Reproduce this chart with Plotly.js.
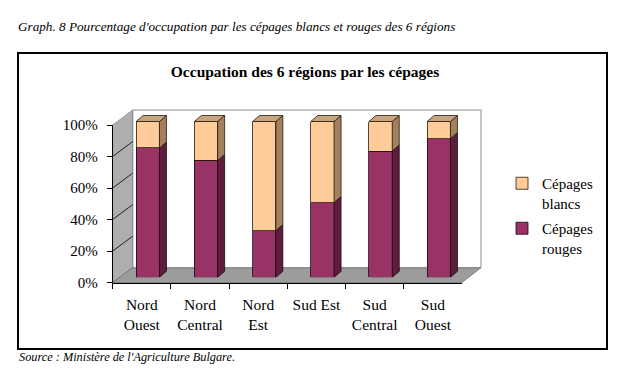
<!DOCTYPE html>
<html>
<head>
<meta charset="utf-8">
<script src="https://cdn.plot.ly/plotly-3.0.1.min.js"></script>
<style>
  html, body { margin: 0; padding: 0; background: #fff; }
  #chart { width: 627px; height: 373px; }
</style>
</head>
<body>
<div id="chart"></div>
<script>
// ---- data ----
const categories = ['Nord<br>Ouest', 'Nord<br>Central', 'Nord<br>Est', 'Sud Est', 'Sud<br>Central', 'Sud<br>Ouest'];
const rouges = [83, 75, 30, 48, 81, 89];
const blancs = [17, 25, 70, 52, 19, 11];
const yTicks = [0, 20, 40, 60, 80, 100];
const yTickLabels = ['0%', '20%', '40%', '60%', '80%', '100%'];
const seriesNames = ['Cépages<br>rouges', 'Cépages<br>blancs'];

// ---- geometry helpers (pixels -> paper) ----
const W = 627, H = 373;
const fx = p => p / W;
const fy = p => 1 - p / H;
const FONT = '"Liberation Serif", "DejaVu Serif", serif';

// front plane (axes), back wall, bars plane in px
const front = { x0: 112.7, x1: 462, yb: 282.5, yt: 125 };
const back = { x0: 132.7, x1: 481, yb: 267.7, yt: 110 };
const barPlane = { x0: 118.7, unit: 58.2, yb: 277.3, yt100: 121.5 };
const barPxPerPct = (barPlane.yb - barPlane.yt100) / 100;
const barXMax = 5.7, barYMax = 110;
const depthDx = 7 / barPlane.unit;      // bar depth in category units
const depthDy = 6 / barPxPerPct;        // bar depth in % units
const barW = 0.4;

const idx = categories.map((_, i) => i);

const traces = [
  // helper (draws nothing) so the front category axis exists
  { x: categories, y: categories.map(() => 0), xaxis: 'x2', yaxis: 'y2', type: 'scatter', mode: 'none',
    showlegend: false, hoverinfo: 'skip' },
  { x: idx, y: rouges, name: seriesNames[0], type: 'bar', xaxis: 'x3', yaxis: 'y3', width: barW,
    legendgroup: 'r', legendrank: 2, marker: { color: '#993366', line: { color: '#1a0510', width: 0.8 } } },
  { x: idx, y: blancs, name: seriesNames[1], type: 'bar', xaxis: 'x3', yaxis: 'y3', width: barW,
    legendgroup: 'b', legendrank: 1, marker: { color: '#FFCC99', line: { color: '#2a1a0a', width: 0.8 } } }
];

const shapes = [];
// outer frame
shapes.push({ type: 'rect', xref: 'paper', yref: 'paper', x0: fx(18), x1: fx(607), y0: fy(53), y1: fy(349),
  line: { color: '#000', width: 2 }, layer: 'below' });
// left wall
shapes.push({ type: 'path', xref: 'paper', yref: 'paper', layer: 'below',
  path: `M ${fx(front.x0)},${fy(front.yb)} L ${fx(front.x0)},${fy(front.yt)} L ${fx(back.x0)},${fy(back.yt)} L ${fx(back.x0)},${fy(back.yb)} Z`,
  fillcolor: '#AEAEAE', line: { color: '#8a8a8a', width: 0.8 } });
// floor
shapes.push({ type: 'path', xref: 'paper', yref: 'paper', layer: 'below',
  path: `M ${fx(front.x0)},${fy(front.yb)} L ${fx(front.x1)},${fy(front.yb)} L ${fx(back.x1)},${fy(back.yb)} L ${fx(back.x0)},${fy(back.yb)} Z`,
  fillcolor: '#9C9C9C', line: { color: '#6e6e6e', width: 0.8 } });
// back wall border
shapes.push({ type: 'rect', xref: 'paper', yref: 'paper', layer: 'below',
  x0: fx(back.x0), x1: fx(back.x1), y0: fy(back.yb), y1: fy(back.yt),
  line: { color: '#8c8c8c', width: 1 } });
// diagonal gridlines on left wall
yTicks.filter(v => v > 0 && v < 100).forEach(v => {
  const yF = front.yb - v * (front.yb - front.yt) / 100;
  const yB = back.yb - v * (back.yb - back.yt) / 100;
  shapes.push({ type: 'line', xref: 'paper', yref: 'paper', layer: 'below',
    x0: fx(front.x0), y0: fy(yF), x1: fx(back.x0), y1: fy(yB), line: { color: '#222', width: 1 } });
});
// 3D faces of bars (from data)
idx.forEach(i => {
  const xr = i + barW / 2, xl = i - barW / 2;
  const r = rouges[i], t = rouges[i] + blancs[i];
  shapes.push({ type: 'path', xref: 'x3', yref: 'y3', layer: 'above',
    path: `M ${xr},0 L ${xr + depthDx},${depthDy} L ${xr + depthDx},${r + depthDy} L ${xr},${r} Z`,
    fillcolor: '#5E1D3C', line: { color: '#1a0510', width: 0.8 } });
  shapes.push({ type: 'path', xref: 'x3', yref: 'y3', layer: 'above',
    path: `M ${xr},${r} L ${xr + depthDx},${r + depthDy} L ${xr + depthDx},${t + depthDy} L ${xr},${t} Z`,
    fillcolor: '#A38160', line: { color: '#2a1a0a', width: 0.8 } });
  shapes.push({ type: 'path', xref: 'x3', yref: 'y3', layer: 'above',
    path: `M ${xl},${t} L ${xr},${t} L ${xr + depthDx},${t + depthDy} L ${xl + depthDx},${t + depthDy} Z`,
    fillcolor: '#C9A47E', line: { color: '#2a1a0a', width: 0.8 } });
});

const layout = {
  width: W, height: H,
  margin: { l: 0, r: 0, t: 0, b: 0 },
  paper_bgcolor: '#fff', plot_bgcolor: 'rgba(0,0,0,0)',
  font: { family: FONT, size: 14, color: '#000' },
  barmode: 'stack',
  showlegend: true,
  title: { text: '<b>Occupation des 6 régions par les cépages</b>', x: fx(305), y: fy(72),
    xref: 'paper', yref: 'paper', xanchor: 'center', yanchor: 'middle',
    font: { family: FONT, size: 15.5, color: '#000' } },
  // back wall (gridlines)
  xaxis: { domain: [fx(back.x0), fx(back.x1)], range: [0, 1], visible: false, anchor: 'y', fixedrange: true },
  yaxis: { domain: [fy(back.yb), fy(back.yt)], range: [0, 100], anchor: 'x', tickvals: yTicks.filter(v => v > 0 && v < 100),
    showgrid: true, gridcolor: '#222', gridwidth: 1, showticklabels: false, ticks: '', zeroline: false, showline: false, fixedrange: true },
  // front axes
  xaxis2: { domain: [fx(front.x0), fx(front.x1)], anchor: 'y2', type: 'category', categoryorder: 'array', categoryarray: categories,
    range: [-0.5, categories.length - 0.5], tickson: 'boundaries', ticks: 'outside', ticklen: 5, tickcolor: '#000', tickwidth: 1,
    showline: true, linecolor: '#000', linewidth: 1, showgrid: false, zeroline: false, ticklabelstandoff: 8,
    tickfont: { family: FONT, size: 15.5, color: '#000' }, fixedrange: true },
  yaxis2: { domain: [fy(front.yb), fy(front.yt)], anchor: 'x2', range: [0, 100], tickmode: 'array', tickvals: yTicks, ticktext: yTickLabels,
    ticks: 'outside', ticklen: 5, tickcolor: '#000', showline: true, linecolor: '#000', linewidth: 1,
    showgrid: false, zeroline: false, ticklabelstandoff: 6, tickfont: { family: FONT, size: 15, color: '#000' }, fixedrange: true },
  // bars plane
  xaxis3: { domain: [fx(barPlane.x0), fx(barPlane.x0 + (barXMax + 0.5) * barPlane.unit)], anchor: 'y3',
    range: [-0.5, barXMax], visible: false, fixedrange: true },
  yaxis3: { domain: [fy(barPlane.yb), fy(barPlane.yb - barYMax * barPxPerPct)], anchor: 'x3',
    range: [0, barYMax], visible: false, fixedrange: true },
  legend: { x: fx(502), y: fy(167), xanchor: 'left', yanchor: 'top', traceorder: 'grouped', tracegroupgap: 3,
    valign: 'top', bgcolor: 'rgba(0,0,0,0)', font: { family: FONT, size: 15, color: '#000' } },
  shapes: shapes,
  annotations: [
    { text: "<i>Graph. 8 Pourcentage d'occupation par les cépages blancs et rouges des 6 régions</i>",
      xref: 'paper', yref: 'paper', x: fx(16), y: fy(26), xanchor: 'left', yanchor: 'middle', showarrow: false,
      font: { family: FONT, size: 13.2, color: '#000' } },
    { text: "<i>Source : Ministère de l'Agriculture Bulgare.</i>",
      xref: 'paper', yref: 'paper', x: fx(17), y: fy(356.5), xanchor: 'left', yanchor: 'middle', showarrow: false,
      font: { family: FONT, size: 12.3, color: '#000' } }
  ]
};

Plotly.newPlot('chart', traces, layout, { displayModeBar: false, staticPlot: true });
</script>
</body>
</html>
